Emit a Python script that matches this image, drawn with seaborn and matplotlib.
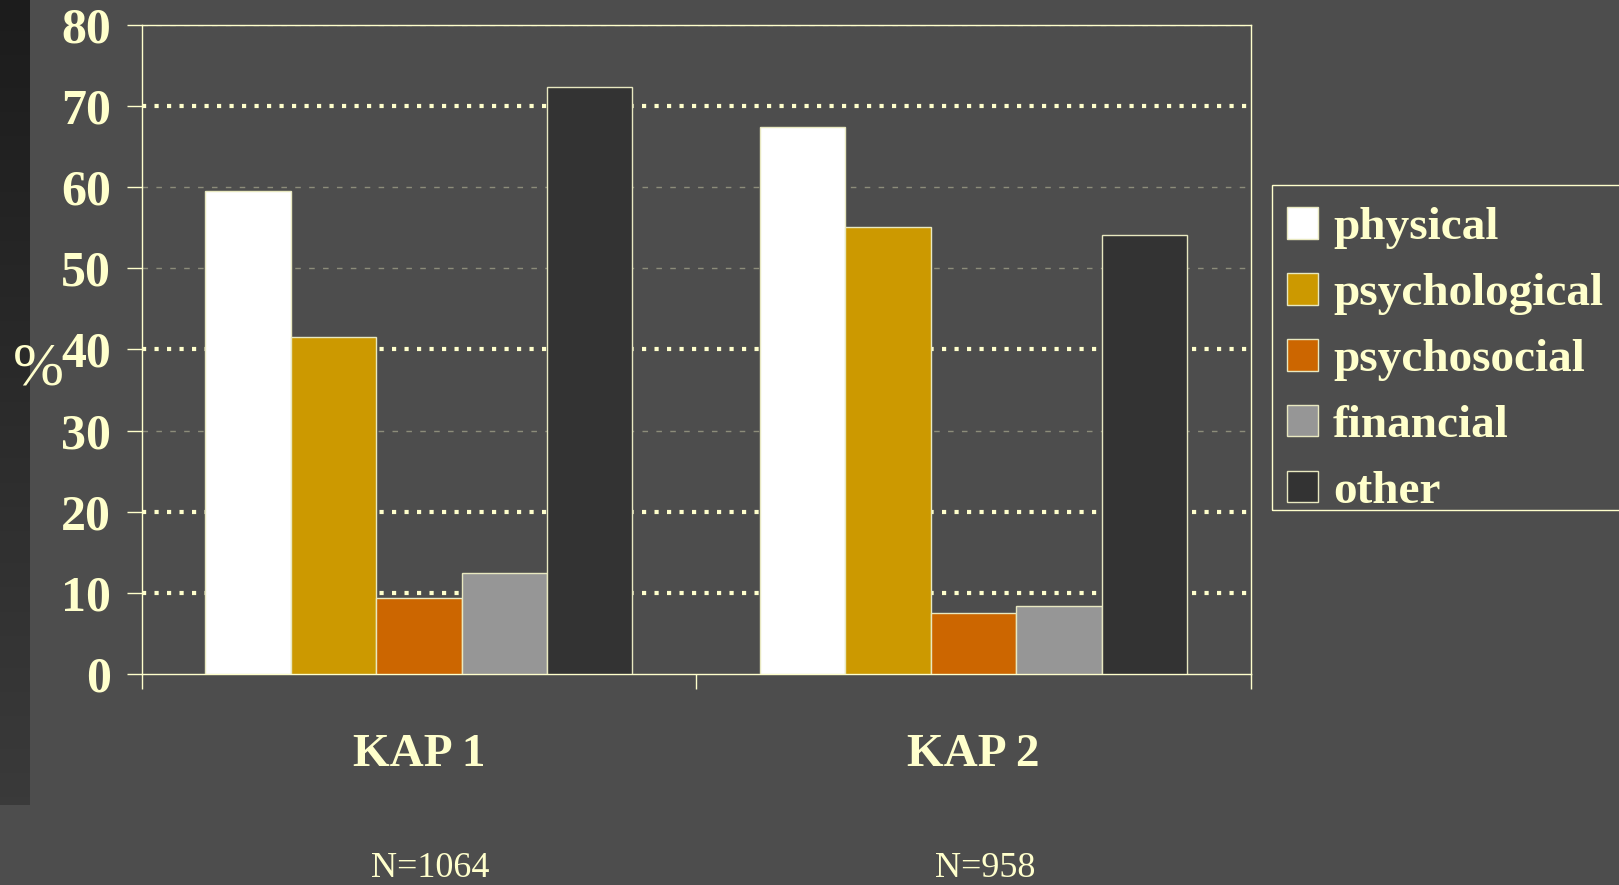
import numpy as np
import pandas as pd
import matplotlib
matplotlib.use("Agg")
import matplotlib.pyplot as plt
from matplotlib.patches import Patch, Rectangle
import seaborn as sns

# data
studies = ["KAP 1", "KAP 2"]
sample_sizes = ["N=1064", "N=958"]
categories = ["physical", "psychological", "psychosocial", "financial", "other"]
kap1 = [59.5, 41.5, 9.4, 12.5, 72.3]
kap2 = [67.4, 55.1, 7.5, 8.4, 54.1]
colors = ["#FFFFFF", "#CC9900", "#CC6600", "#969696", "#333333"]

# gridline levels as they appear on the slide
dotted_levels = [10, 20, 40, 70]
dashed_levels = [30, 50, 60, 80]

bg = "#4D4D4D"
fg = "#FFFFCC"

df = pd.DataFrame({
    "study": np.repeat(studies, len(categories)),
    "category": categories * len(studies),
    "percent": kap1 + kap2,
})

sns.set_style("dark")
plt.rcParams["font.family"] = ["Liberation Serif", "DejaVu Serif"]
plt.rcParams["axes.facecolor"] = bg
plt.rcParams["figure.facecolor"] = bg

fig = plt.figure(figsize=(16.19, 8.85), dpi=100)

# dark strip at the left edge of the slide
strip = fig.add_axes([0, 0.09, 0.018, 0.91])
grad = np.linspace(0, 1, 100).reshape(-1, 1)
strip.imshow(grad, aspect="auto", cmap=matplotlib.colors.LinearSegmentedColormap.from_list(
    "s", ["#1C1C1C", "#3A3A3A"]), extent=[0, 1, 0, 1])
strip.axis("off")

ax = fig.add_axes([0.0874, 0.2384, 0.6853, 0.7334])
sns.barplot(data=df, x="study", y="percent", hue="category", palette=colors,
            saturation=1, width=0.77, edgecolor="#E8E8C0", linewidth=1,
            legend=False, ax=ax, zorder=3)

for lv in dotted_levels:
    ax.axhline(lv, color=fg, lw=3, ls=(0, (1, 2)), zorder=1)
for lv in dashed_levels:
    ax.axhline(lv, color="#8C8C7A", lw=1, ls=(0, (4, 6)), zorder=1)

ax.set_ylim(0, 80)
ax.set_xlim(-0.5, 1.5)
ax.set_yticks(range(0, 81, 10))
ax.set_yticklabels([str(v) for v in range(0, 81, 10)], fontsize=36,
                   fontweight="bold", color=fg)
ax.set_xticks(range(len(studies)))
ax.set_xticklabels(studies, fontsize=34, fontweight="bold", color=fg)
ax.set_xticks([-0.5, 0.5, 1.5], minor=True)
ax.tick_params(axis="x", which="major", bottom=True, length=0, pad=43)
ax.tick_params(axis="x", which="minor", bottom=True, length=11, width=1, color=fg)
ax.tick_params(axis="y", left=True, length=11, width=1, color=fg, pad=11)
ax.set_xlabel("")
ax.set_ylabel("")
ax.grid(False)
for s in ax.spines.values():
    s.set_visible(True)
    s.set_color(fg)
    s.set_linewidth(1)

for i, n in enumerate(sample_sizes):
    ax.text(i + 0.02, -0.3, n, transform=ax.get_xaxis_transform(),
            ha="center", va="center", fontsize=26, color=fg)

fig.text(0.024, 0.582, "%", fontsize=44, color=fg, ha="center", va="center")

# legend: entries without frame, box drawn separately (runs off the right edge)
handles = [Patch(facecolor=c, edgecolor="#E8E8C0", linewidth=1) for c in colors]
ax.legend(handles, categories, loc="upper left",
          bbox_to_anchor=(0.795, 0.766), bbox_transform=fig.transFigure,
          prop={"family": "Liberation Serif", "weight": "bold", "size": 34},
          labelcolor=fg, frameon=False, borderaxespad=0, borderpad=0,
          handlelength=0.65, handleheight=0.65, handletextpad=0.32,
          labelspacing=0.5)
fig.add_artist(Rectangle((0.7857, 0.4237), 0.3, 0.3672, transform=fig.transFigure,
                         fill=False, edgecolor=fg, linewidth=1))

fig.savefig("out.png", dpi=100, facecolor=bg)
